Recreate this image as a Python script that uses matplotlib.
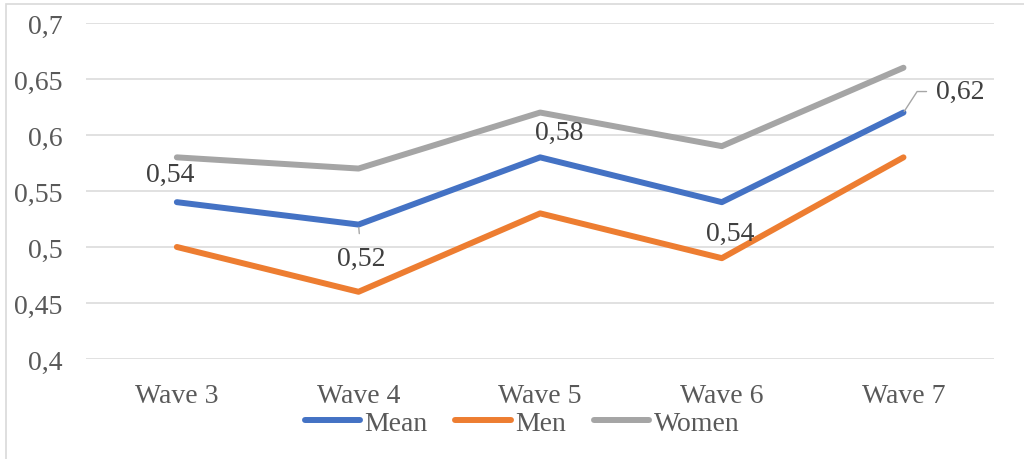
import matplotlib.pyplot as plt
from matplotlib.patches import Rectangle
from matplotlib.ticker import FuncFormatter, MultipleLocator

waves = ['Wave 3', 'Wave 4', 'Wave 5', 'Wave 6', 'Wave 7']
mean = [0.54, 0.52, 0.58, 0.54, 0.62]
men = [0.50, 0.46, 0.53, 0.49, 0.58]
women = [0.58, 0.57, 0.62, 0.59, 0.66]

# where each label of the mean series sits, relative to its point (pixels)
label_offsets = [(-7, 28), (3, -34), (19, 25), (8, -31), (57, 21)]

plt.rcParams['font.family'] = ['Liberation Serif', 'DejaVu Serif']

fig = plt.figure(figsize=(10.24, 4.6), dpi=100)
ax = fig.add_axes([0.084, 0.2174, 0.887, 0.7306])

fig.patches.append(Rectangle((6 / 1024, -0.1), 1.2, 1.1 - 5 / 460, transform=fig.transFigure,
                             fill=False, edgecolor='#D9D9D9', lw=1.2, zorder=0))

x = range(len(waves))
ax.plot(x, mean, color='#4472C4', lw=4.3, solid_capstyle='round', solid_joinstyle='round', label='Mean', zorder=3)
ax.plot(x, men, color='#ED7D31', lw=4.3, solid_capstyle='round', solid_joinstyle='round', label='Men', zorder=3)
ax.plot(x, women, color='#A5A5A5', lw=4.3, solid_capstyle='round', solid_joinstyle='round', label='Women', zorder=3)

ax.set_xlim(-0.5, len(waves) - 0.5)
ax.set_ylim(0.4, 0.7)
ax.yaxis.set_major_locator(MultipleLocator(0.05))
ax.yaxis.set_major_formatter(FuncFormatter(lambda v, p: f'{v:g}'.replace('.', ',')))
ax.set_xticks(list(x))
ax.set_xticklabels(waves)
ax.grid(axis='y', color='#D9D9D9', lw=1.1)
ax.set_axisbelow(True)
for s in ax.spines.values():
    s.set_visible(False)
ax.tick_params(axis='both', length=0, labelsize=20, colors='#595959')
ax.tick_params(axis='y', pad=17)
ax.tick_params(axis='x', pad=17)

for i, (v, off) in enumerate(zip(mean, label_offsets)):
    txt = f'{v:.2f}'.replace('.', ',')
    if i == 1:
        ax.annotate(txt, (i, v), xytext=off, textcoords='offset pixels', ha='center', va='center',
                    fontsize=20, color='#404040',
                    arrowprops=dict(arrowstyle='-', color='#A6A6A6', lw=1, shrinkA=7, shrinkB=2))
    elif i == 4:
        ax.annotate(txt, (i, v), xytext=off, textcoords='offset pixels', ha='center', va='center',
                    fontsize=20, color='#404040',
                    arrowprops=dict(arrowstyle='-', color='#A6A6A6', lw=1, shrinkA=5, shrinkB=1,
                                    relpos=(0, 0.5), connectionstyle='angle,angleA=0,angleB=57,rad=0'))
    else:
        ax.annotate(txt, (i, v), xytext=off, textcoords='offset pixels', ha='center', va='center',
                    fontsize=20, color='#404040')

leg = fig.legend(loc='center', bbox_to_anchor=(522 / 1024, 1 - 424 / 460), ncol=3, frameon=False,
                 fontsize=20, handlelength=2.0, handletextpad=0.15, columnspacing=1.0,
                 borderaxespad=0, borderpad=0)
for t in leg.get_texts():
    t.set_color('#595959')

fig.savefig('out.png', dpi=100)
